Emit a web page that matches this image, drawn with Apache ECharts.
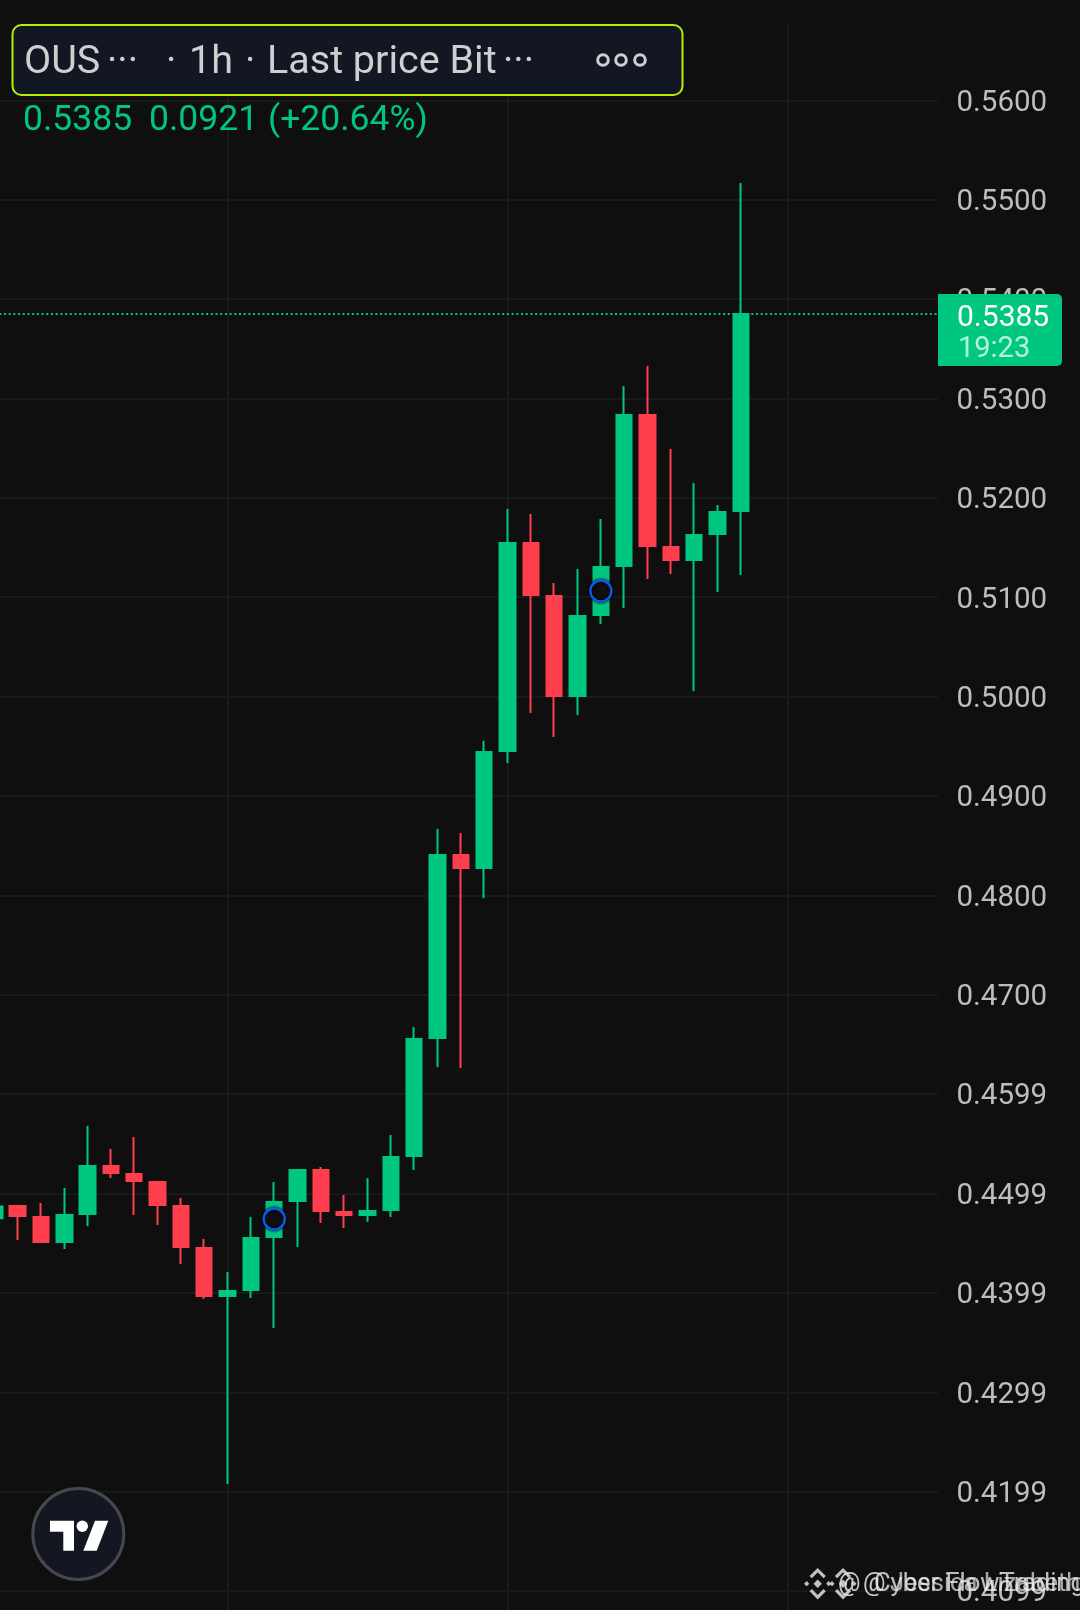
<!DOCTYPE html>
<html><head><meta charset="utf-8">
<style>html,body{margin:0;padding:0;background:#0f0f0f}#c{width:1080px;height:1610px}</style>
<script src="https://cdn.jsdelivr.net/npm/echarts@6/dist/echarts.min.js"></script>
</head><body><div id="c"></div>
<script>
// Bar slot of each candle (one per hour), then [open, close, low, high]
const barSlots = [2,3,4,5,6,7,8,9,10,11,12,13,14,15,16,17,18,19,20,21,22,23,24,25,26,27,28,29,30,31,32,33,34];
const opens  = [.4475,.44874,.44764,.44512,.44794,.45277,.45196,.45116,.44874,.44452,.43969,.44029,.44562,.44925,.45236,.44814,.44784,.44834,.45377,.46565,.48406,.48275,.49452,.51545,.51012,.50006,.50821,.51314,.52833,.51505,.51374,.51636,.51867];
const closes = [.4487,.44774,.44512,.44784,.45277,.45206,.45126,.44884,.44462,.43969,.44019,.44552,.44914,.45236,.44824,.44784,.44824,.45367,.46555,.48406,.48275,.49442,.51545,.51022,.50006,.50811,.51304,.52833,.51515,.51374,.51626,.51857,.5385];
const lows   = [.4474,.44532,.44502,.44442,.44673,.45156,.44784,.44683,.44291,.43938,.42077,.43949,.43647,.44462,.44703,.44653,.44713,.44764,.45236,.46273,.46263,.47973,.49332,.49835,.49593,.49815,.5073,.50891,.51183,.51233,.50056,.51052,.51223];
const highs  = [.4488,.44884,.44904,.45055,.45679,.45448,.45569,.45126,.44955,.44542,.4421,.44764,.45116,.45246,.45267,.44985,.45156,.45589,.46675,.48668,.48627,.49553,.51887,.51837,.51143,.51284,.51787,.53125,.53326,.52491,.52149,.51928,.55168];
const markerSlots = [14, 28];
const markerPrices = [.44743, .51062];
const yTickLabels = ['','0.4099','0.4199','0.4299','0.4399','0.4499','0.4599','0.4700','0.4800','0.4900','0.5000','0.5100','0.5200','0.5300','0.5400','0.5500','0.5600',''];
const lastPrice = 0.5385;
const lastPriceText = '0.5385';
const countdownText = '19:23';
const legendValues = ['0.5385','0.0921','(+20.64%)'];

const UP='#00C77F', DOWN='#FF3F4E', BG='#0F0F0F', GRID='#191919', TXT='#BDBDBD', HEAD='#CFCFCF';
const FONT='Roboto';
const gridL=-52.4, gridR=142, xMax=42.45;

function diamond(cx,cy,r,fill){return {type:'polygon',z:120,silent:true,shape:{points:[[cx,cy-r],[cx+r,cy],[cx,cy+r],[cx-r,cy]]},style:{fill}};}
function chevron(cx,cy,a,b,rot,fill){
  return {type:'polyline',z:120,silent:true,x:cx,y:cy,rotation:rot,shape:{points:[[-a,b],[0,b-a],[a,b]]},style:{stroke:fill,lineWidth:3.2,fill:'none'}};
}
function logo(cx,cy,col){
  return [diamond(cx,cy,4.2,col),diamond(cx-11,cy,2.6,col),diamond(cx+11,cy,2.6,col),
    chevron(cx,cy,7,-6.5,0,col),chevron(cx,cy,7,-6.5,Math.PI,col)];
}
function txt(x,y,text,size,fill){return {type:'text',z:110,silent:true,x,y,style:{text,fill,fontFamily:FONT,fontSize:size,verticalAlign:'middle',align:'left'}};}
function ring(cx,cy){return {type:'circle',z:110,silent:true,shape:{cx,cy,r:5.3},style:{fill:'none',stroke:'#CFCFCF',lineWidth:3}};}

const chart=echarts.init(document.getElementById('c'),null,{renderer:'canvas'});
chart.setOption({
  animation:false,
  backgroundColor:BG,
  grid:[
    {left:gridL,right:gridR,top:0.92,bottom:-80.4,outerBoundsMode:'none'},
    {left:gridL,right:gridR,top:24,bottom:0,outerBoundsMode:'none'}
  ],
  xAxis:[
    {type:'value',gridIndex:0,min:0,max:xMax,show:false,splitLine:{show:false}},
    {type:'value',gridIndex:1,min:0,max:xMax,interval:12,axisLine:{show:false},axisTick:{show:false},axisLabel:{show:false},
     splitLine:{show:true,showMinLine:false,showMaxLine:false,lineStyle:{color:GRID,width:2}}}
  ],
  yAxis:[
    {type:'value',gridIndex:0,min:0.40,max:0.57,interval:0.01,position:'right',
     axisLine:{show:false},axisTick:{show:false},
     axisLabel:{margin:18.5,color:TXT,fontFamily:FONT,fontSize:29.5,align:'left',verticalAlign:'top',lineHeight:6,
       formatter:v=>yTickLabels[Math.round((v-0.40)*100)]||''},
     splitLine:{show:true,showMaxLine:false,lineStyle:{color:GRID,width:2}}},
    {type:'value',gridIndex:1,min:0,max:1,show:false,splitLine:{show:false}}
  ],
  series:[
    {type:'line',xAxisIndex:0,yAxisIndex:0,z:1,showSymbol:false,symbol:'none',silent:true,
     data:[[0,lastPrice],[xMax,lastPrice]],
     lineStyle:{color:UP,width:2,type:[2,2.7]}},
    {type:'candlestick',xAxisIndex:0,yAxisIndex:0,barWidth:16,clip:false,z:2,
     data:barSlots.map((s,i)=>[s,opens[i],closes[i],lows[i],highs[i]]),
     itemStyle:{color:UP,color0:DOWN,borderColor:UP,borderColor0:DOWN,borderWidth:2}},
    {type:'scatter',xAxisIndex:0,yAxisIndex:0,symbolSize:21,z:5,
     data:markerSlots.map((s,i)=>[s,markerPrices[i]]),
     itemStyle:{color:BG,borderColor:'#0E5AF0',borderWidth:2.4,shadowColor:'#000',shadowBlur:3,opacity:1}}
  ],
  graphic:{elements:[
    {type:'rect',z:100,silent:true,shape:{x:12.5,y:25,width:670,height:70,r:9},style:{fill:'#131724',stroke:'#B6F000',lineWidth:2}},
    txt(24,63,'OUS',39.5,HEAD),
    txt(107,63,'···',39.5,HEAD),
    txt(166,63,'·',39.5,HEAD),
    txt(189,63,'1h',39.5,HEAD),
    txt(245,63,'·',39.5,HEAD),
    txt(267,63,'Last price Bit',39.5,HEAD),
    txt(503,63,'···',39.5,HEAD),
    ring(603,60),ring(621,60),ring(640,60),
    txt(23,121,legendValues[0],35.5,UP),
    txt(149,121,legendValues[1],35.5,UP),
    txt(268,121,legendValues[2],35.5,UP),
    {type:'rect',z:100,silent:true,shape:{x:938,y:294,width:124,height:72,r:[0,5,5,0]},style:{fill:UP}},
    txt(957,318,lastPriceText,30,'#FFFFFF'),
    txt(958,350,countdownText,29,'#B4F3DB'),
    {type:'circle',z:100,silent:true,shape:{cx:78.3,cy:1534,r:45.5},style:{fill:'#131722',stroke:'#46484E',lineWidth:3}},
    {type:'polygon',z:110,silent:true,shape:{points:[[50,1520.7],[74,1520.7],[74,1550.7],[63.3,1550.7],[63.3,1531.7],[50,1531.7]]},style:{fill:'#FFFFFF'}},
    {type:'circle',z:110,silent:true,shape:{cx:82.3,cy:1526.3,r:5.7},style:{fill:'#FFFFFF'}},
    {type:'polygon',z:110,silent:true,shape:{points:[[95,1520.7],[108.3,1520.7],[96.7,1550.7],[83.3,1550.7]]},style:{fill:'#FFFFFF'}},
    ...logo(817.7,1583.7,'rgba(225,225,225,0.85)'),
    ...logo(843,1583.7,'rgba(225,225,225,0.85)'),
    txt(838,1585,'@',25,'rgba(235,235,235,0.85)'),
    txt(863,1585,'@',25,'rgba(235,235,235,0.85)'),
    txt(874,1585,'Cyber FlowTrading',25.5,'rgba(235,235,235,0.8)'),
    txt(890,1585,'Jessica Lizabeth',25.5,'rgba(235,235,235,0.7)')
  ]}
});
</script></body></html>
